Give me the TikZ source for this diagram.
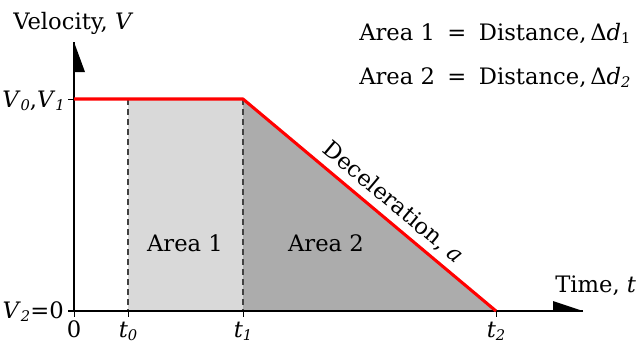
\documentclass[tikz,border=0pt]{standalone}
\usepackage{fontspec}
\setmainfont{DejaVu Serif}
\newcommand\sbi[1]{\raisebox{-0.3ex}{\fontsize{11}{12}\selectfont\textit{#1}}}
\newcommand\sbu[1]{\raisebox{-0.3ex}{\fontsize{11}{12}\selectfont #1}}
\begin{document}
\begin{tikzpicture}[x=0.75pt,y=-0.75pt,
  lbl/.style={inner sep=0pt,text=black,font=\fontsize{17}{20}\selectfont},
  axisline/.style={line width=0.9pt,black},
  tickline/.style={line width=0.75pt,black},
  redline/.style={line width=2.3pt,red,line join=round},
  dashline/.style={line width=0.9pt,black!75,dash pattern=on 4.5pt off 3pt}]
\useasboundingbox (0,0) rectangle (637,343);
\definecolor{lightfill}{RGB}{217,217,217}
\definecolor{darkfill}{RGB}{172,172,172}
% key coordinates
\coordinate (O) at (74,311);
\coordinate (A) at (74,99);
\coordinate (B) at (243,99);
\coordinate (C) at (496,311);
\coordinate (T0) at (128,311);
\coordinate (T0u) at (128,99);
\coordinate (T1) at (243,311);
\coordinate (Ytop) at (74,42);
\coordinate (Xend) at (583,311);
\coordinate (Xstart) at (68,311);
% fills
\fill[lightfill] (T0u) rectangle (T1);
\fill[darkfill] (B) -- (T1) -- (C) -- cycle;
% dashed verticals
\draw[dashline] (T0u) -- (T0);
\draw[dashline] (B) -- (T1);
% axes
\draw[axisline] (O) -- (Ytop);
\draw[axisline] (Xstart) -- (Xend);
\fill[black] (Ytop) -- (74,72) -- (85,72) -- cycle;
\fill[black] (Xend) -- (553,311) -- (553,301) -- cycle;
% ticks
\draw[tickline] (68,99) -- (A);
\draw[tickline] (O) -- ++(0,6);
\draw[tickline] (T0) -- ++(0,6);
\draw[tickline] (T1) -- ++(0,6);
\draw[tickline] (C) -- ++(0,6);
% red velocity line
\draw[redline] (A) -- (B) -- (C);
\path (B) -- (C) node[pos=0.55,sloped,above=5pt,lbl] (dec) {Deceleration, \textit{a}};
% labels
\node[lbl,anchor=base west] (vel) at (13,29) {Velocity, \textit{V}};
\node[lbl,anchor=base east] (v01) at (65,107) {\textit{V}\sbi{0},\textit{V}\sbi{1}};
\node[lbl,anchor=base east] (v2) at (64,318) {\textit{V}\sbi{2}=0};
\node[lbl,anchor=base] (zero) at (74,337) {0};
\node[lbl,anchor=base] (t0) at (128,337) {\textit{t}\sbi{0}};
\node[lbl,anchor=base] (t1) at (243,337) {\textit{t}\sbi{1}};
\node[lbl,anchor=base] (t2) at (496,337) {\textit{t}\sbi{2}};
\node[lbl,anchor=base west] (time) at (555,292) {Time, \textit{t}};
\node[lbl,anchor=base] (a1) at (185,251) {Area 1};
\node[lbl,anchor=base] (a2) at (326,251) {Area 2};
\node[lbl,anchor=base west] (eq1) at (359,40) {Area 1\hspace{0.55em}=\hspace{0.55em}Distance,\,Δ\textit{d}\sbu{1}};
\node[lbl,anchor=base west] (eq2) at (359,84) {Area 2\hspace{0.55em}=\hspace{0.55em}Distance,\,Δ\textit{d}\sbi{2}};
\end{tikzpicture}
\end{document}
